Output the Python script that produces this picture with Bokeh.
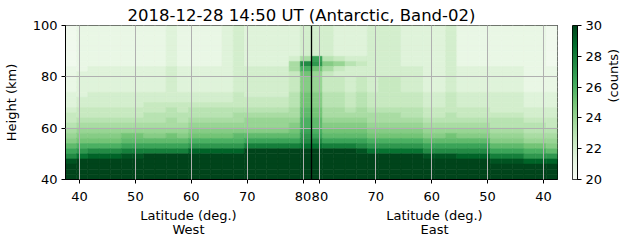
import numpy as np
from bokeh.plotting import figure
from bokeh.models import (ColumnDataSource, LinearColorMapper, FixedTicker, Span,
                          Range1d, LinearAxis)
from bokeh.layouts import row
from bokeh.palettes import Greens256
from bokeh.transform import transform
from bokeh.embed import file_html
from bokeh.resources import INLINE

TITLE = "2018-12-28 14:50 UT (Antarctic, Band-02)"
FONT = "DejaVu Sans"

# Latitude bin centres (deg.), in the order they are drawn (left to right)
lat_west = [38.5, 40.5, 42.5, 44.5, 46.5, 48.5, 50.5, 52.5, 54.5, 56.5, 58.5,
            60.5, 62.5, 64.5, 66.5, 68.5, 70.5, 72.5, 74.5, 76.5, 78.5, 80.5]
lat_east = [80.5, 78.5, 76.5, 74.5, 72.5, 70.5, 68.5, 66.5, 64.5, 62.5, 60.5,
            58.5, 56.5, 54.5, 52.5, 50.5, 48.5, 46.5, 44.5, 42.5, 40.5, 38.5]
lat_bin = 2.0

# Height bin centres (km), top to bottom
height_km = [99, 97, 95, 93, 91, 89, 87, 85, 83, 81, 79, 77, 75, 73, 71,
             69, 67, 65, 63, 61, 59, 57, 55, 53, 51, 49, 47, 45, 43, 41]
height_bin = 2.0

# Counts per column, one character per height bin (top to bottom):
# count = 20 + 0.5 * CODES.index(char)
CODES = "0123456789ABCDEFGHIJK"
counts_west = [
    "11111111222223334556789BDFJKKK",
    "2222222223333344556789ACEHKKKK",
    "2222222233333444556789ACFIKKKK",
    "2222222233333444556789ACFIKKKK",
    "2222222233333444556789ACFIKKKK",
    "222222223333344455678ABDGJKKKK",
    "222222223333344455678ABDGJKKKK",
    "2222222233333445566789BDGKKKKK",
    "2222222233333445566789BDGKKKKK",
    "333333334444444566778ABDGKKKKK",
    "2222222233333445566789BDGKKKKK",
    "222222223333344566789ACEIKKKKK",
    "222222223333344566789ACEIKKKKK",
    "222222223333344566789ACEIKKKKK",
    "333333333333344566789ACEIKKKKK",
    "444444444444455567789BCEIKKKKK",
    "333333334444445567889BDGKKKKKK",
    "333333334444445567889BDGKKKKKK",
    "333333334444445567889BDGKKKKKK",
    "333333334444445567889BDGKKKKKK",
    "33333347755556667789ABDGKKKKKK",
    "4444447FCA999AAABBCCDEFHKKKKKK",
]
counts_east = [
    "444444DEA8888999AABBCDFHKKKKKK",
    "44444469755556667789ABDGKKKKKK",
    "33333358545556667789ABDGKKKKKK",
    "33333346444445556789ABDGKKKKKK",
    "33333345445556667789ABDFJKKKKK",
    "444444444444455567789ACEHKKKKK",
    "444444444455555567789ACEHKKKKK",
    "444444444455555567789ACEHKKKKK",
    "333333334444455566789ACEHKKKKK",
    "333333334444455566789ACEHKKKKK",
    "3333333333333444556789BDFJKKKK",
    "3333333333333444556789BDFJKKKK",
    "444444444444455556678ABDFJKKKK",
    "2222222233333444556789BDFIKKKK",
    "2222222233333444556789BDFIKKKK",
    "2222222233333444556789BDFIKKKK",
    "22222222333334444566789BDGJKKK",
    "22222222333334444566789BDGJKKK",
    "22222222333334444566789BDGJKKK",
    "22222222222223334456678ACEIKKK",
    "22222222222223334456678ACEIKKK",
    "111111112222233344556789BEIKKK",
]

west_ticks = [40, 50, 60, 70, 80]
east_ticks = [80, 70, 60, 50, 40]
height_ticks = [40, 60, 80, 100]
cbar_ticks = [20, 22, 24, 26, 28, 30]
count_low, count_high = 20, 30

# East latitude L is drawn at MIRROR - L on the shared x axis
MIRROR = 163
POLE = MIRROR / 2.0
X_LO, X_HI = 37.5, 125.5

xs, ys, vals = [], [], []
for lats, cols, east in ((lat_west, counts_west, False), (lat_east, counts_east, True)):
    for lat, col in zip(lats, cols):
        if len(col) != len(height_km):
            raise ValueError("bad column length: %r" % col)
        xpos = MIRROR - lat if east else lat
        for h, ch in zip(height_km, col):
            xs.append(xpos)
            ys.append(h)
            vals.append(count_low + 0.5 * CODES.index(ch))

src = ColumnDataSource(dict(x=xs, y=ys, v=vals))
mapper = LinearColorMapper(palette=list(reversed(Greens256)), low=count_low, high=count_high)

p = figure(width=566, height=243, x_range=Range1d(X_LO, X_HI), y_range=Range1d(40, 100),
           output_backend="svg", toolbar_location=None, title=TITLE,
           min_border_left=61, min_border_right=9, min_border_top=25, min_border_bottom=64)
p.background_fill_color = "white"
p.border_fill_color = "white"
p.title.align = "left"
p.title.offset = 62
p.title.standoff = 2
p.title.text_font = FONT
p.title.text_font_size = "16.5px"
p.title.text_font_style = "normal"
p.title.text_color = "black"

p.rect(x="x", y="y", width=lat_bin, height=height_bin, source=src,
       fill_color=transform("v", mapper), line_color=transform("v", mapper), line_width=0.6)

tick_pos = list(west_ticks) + [MIRROR - t for t in east_ticks]
tick_lab = [str(t) for t in west_ticks] + [str(t) for t in east_ticks]
p.xaxis.ticker = FixedTicker(ticks=tick_pos)
p.xaxis.major_label_overrides = {pos: lab for pos, lab in zip(tick_pos, tick_lab)}
p.yaxis.ticker = FixedTicker(ticks=height_ticks)
p.yaxis.axis_label = "Height (km)"


def style_axis(ax):
    ax.major_tick_out = 4
    ax.major_tick_in = 0
    ax.minor_tick_line_color = None
    ax.major_tick_line_color = "black"
    ax.axis_line_color = "black"
    ax.major_label_text_font = FONT
    ax.major_label_text_font_size = "13px"
    ax.major_label_text_color = "black"
    ax.major_label_standoff = 4
    ax.axis_label_text_font = FONT
    ax.axis_label_text_font_size = "13px"
    ax.axis_label_text_font_style = "normal"
    ax.axis_label_text_color = "black"


style_axis(p.xaxis[0])
style_axis(p.yaxis[0])
p.xaxis[0].major_label_standoff = 8
p.yaxis.axis_label_standoff = 11

# Second row of labels under the x axis: "Latitude (deg.)" / West | East
west_mid = (X_LO + POLE) / 2
east_mid = (POLE + X_HI) / 2
lab_axis = LinearAxis(ticker=FixedTicker(ticks=[west_mid, east_mid]),
                      major_label_overrides={west_mid: "Latitude (deg.)\nWest",
                                             east_mid: "Latitude (deg.)\nEast"})
style_axis(lab_axis)
lab_axis.axis_line_color = None
lab_axis.major_tick_line_color = None
lab_axis.major_tick_out = 0
lab_axis.major_label_standoff = 4
lab_axis.major_label_text_line_height = 0.95
p.add_layout(lab_axis, "below")

p.grid.grid_line_color = "#b0b0b0"
p.grid.grid_line_width = 1
p.grid.level = "guide"
p.outline_line_color = "black"
p.outline_line_width = 1
p.outline_line_alpha = 1

p.add_layout(Span(location=POLE, dimension="height", line_color="black", line_width=1.3))

# Colour bar
cb = figure(width=65, height=243, x_range=Range1d(0, 1), y_range=Range1d(count_low, count_high),
            output_backend="svg", toolbar_location=None, x_axis_location=None,
            y_axis_location="right",
            min_border_left=6, min_border_right=49, min_border_top=25, min_border_bottom=64)
cb.background_fill_color = "white"
cb.border_fill_color = "white"
grad = np.linspace(count_low, count_high, 256).reshape(256, 1)
cb.image(image=[grad], x=0, y=count_low, dw=1, dh=count_high - count_low, color_mapper=mapper)
cb.grid.visible = False
cb.outline_line_color = "black"
cb.outline_line_width = 1
cb.outline_line_alpha = 1
ya = cb.yaxis[0]
style_axis(ya)
ya.ticker = FixedTicker(ticks=cbar_ticks)
ya.axis_label = "(counts)"
ya.axis_label_standoff = 8
try:
    ya.axis_label_orientation = np.pi / 2
except Exception:
    pass

layout = row(p, cb)
open("out.html", "w").write(file_html(layout, INLINE))
